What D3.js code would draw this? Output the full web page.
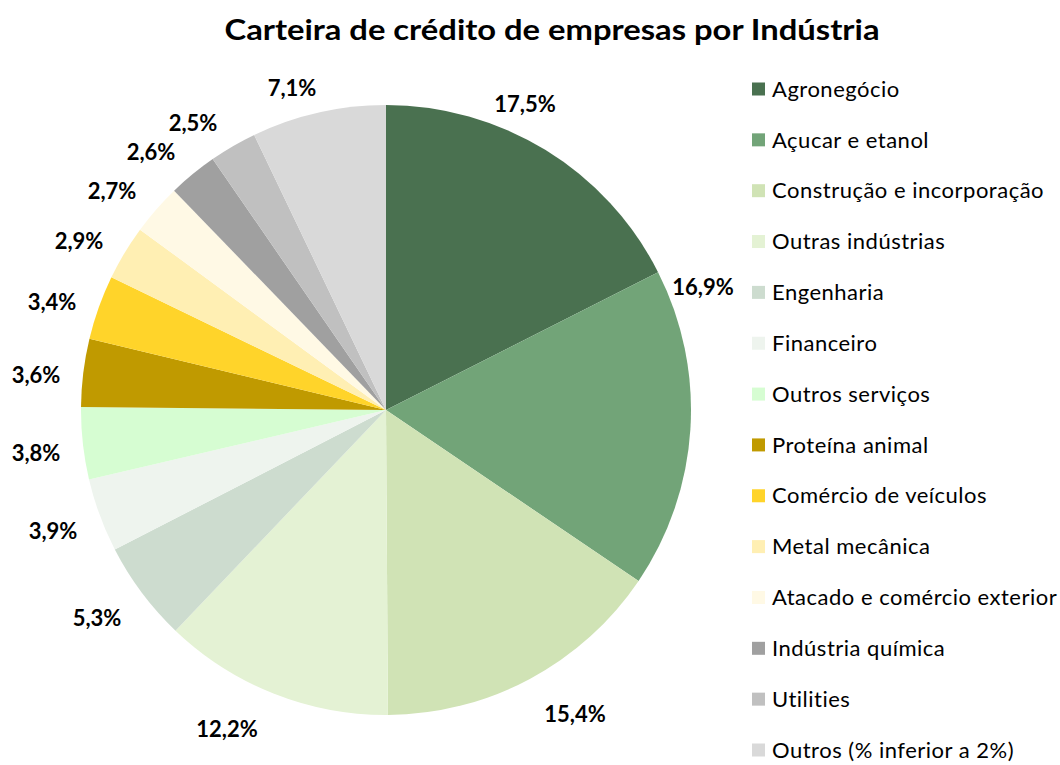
<!DOCTYPE html>
<html><head><meta charset="utf-8">
<script src="https://cdn.jsdelivr.net/npm/d3@7"></script>
<style>body{margin:0;background:#fff}svg{display:block}</style>
</head><body>
<svg id="c" width="1060" height="765"></svg>
<script>
const categories = ["Agronegócio","Açucar e etanol","Construção e incorporação","Outras indústrias","Engenharia","Financeiro","Outros serviços","Proteína animal","Comércio de veículos","Metal mecânica","Atacado e comércio exterior","Indústria química","Utilities","Outros (% inferior a 2%)"];
const values = [17.5,16.9,15.4,12.2,5.3,3.9,3.8,3.6,3.4,2.9,2.7,2.6,2.5,7.1];
const labels = ["17,5%","16,9%","15,4%","12,2%","5,3%","3,9%","3,8%","3,6%","3,4%","2,9%","2,7%","2,6%","2,5%","7,1%"];
const colors = ["#4a7150","#72a478","#d0e3b5","#e4f2d4","#cddccf","#eef4ee","#d6fdd2","#c09a00","#ffd42a","#ffefb3","#fff9e5","#a0a0a0","#c0c0c0","#d9d9d9"];
const title = "Carteira de crédito de empresas por Indústria";

const svg = d3.select("#c");
const font = "Lato, 'Open Sans', sans-serif";
const cx = 386, cy = 410, R = 305;

svg.append("text").attr("x", 552).attr("y", 40).attr("text-anchor","middle")
  .attr("font-family", font).attr("font-weight","bold").attr("font-size", 29)
  .attr("textLength", 655).attr("lengthAdjust","spacingAndGlyphs")
  .text(title);

const pie = d3.pie().sort(null).value(d => d)(values);
const arc = d3.arc().innerRadius(0).outerRadius(R);
const g = svg.append("g").attr("transform", `translate(${cx},${cy})`);
g.selectAll("path").data(pie).join("path")
  .attr("d", arc).attr("fill", (d,i) => colors[i]);

// label layout (best-fit placement as in the original chart), offsets from pie centre
const labelLayout = [[139,-306],[317,-123],[189,304],[-159,319],[-289,208],[-333,121],[-350,43],
  [-350,-35],[-334,-108],[-307,-169],[-274,-219],[-235,-258],[-193,-287],[-94,-322]];
g.selectAll("text.lbl").data(pie).join("text").attr("class","lbl")
  .attr("x", (d,i) => labelLayout[i][0]).attr("y", (d,i) => labelLayout[i][1])
  .attr("text-anchor","middle").attr("dy","0.35em")
  .attr("font-family", font).attr("font-weight","bold").attr("font-size", 22)
  .text((d,i) => labels[i]);

const leg = svg.append("g");
const rowY = d3.scaleLinear().domain([0, categories.length-1]).range([89, 750]);
categories.forEach((c,i) => {
  leg.append("rect").attr("x", 752).attr("y", rowY(i)-6.5).attr("width", 13).attr("height", 13).attr("fill", colors[i]);
  leg.append("text").attr("x", 772).attr("y", rowY(i)).attr("dy","0.35em")
    .attr("font-family", font).attr("font-size", 22).attr("letter-spacing", 0.5)
    .attr("fill","#000").text(c);
});
</script>
</body></html>
